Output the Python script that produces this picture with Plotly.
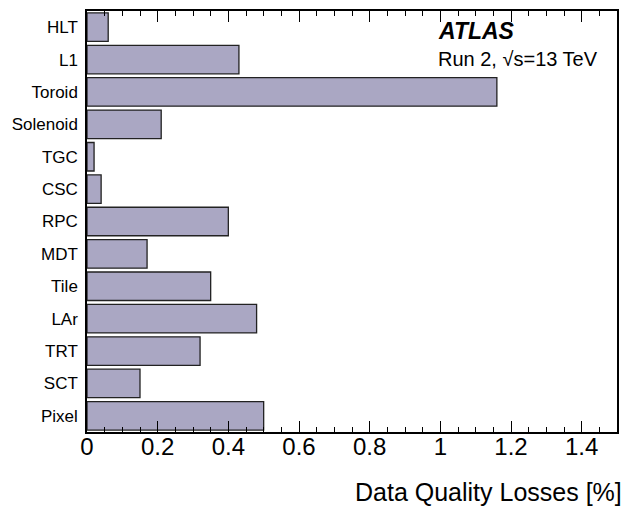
import plotly.graph_objects as go

categories = ["HLT", "L1", "Toroid", "Solenoid", "TGC", "CSC", "RPC", "MDT",
              "Tile", "LAr", "TRT", "SCT", "Pixel"]
losses = [0.06, 0.43, 1.16, 0.21, 0.02, 0.04, 0.40, 0.17, 0.35, 0.48, 0.32, 0.15, 0.50]
x_ticks = [0, 0.2, 0.4, 0.6, 0.8, 1, 1.2, 1.4]
x_tick_labels = ["0", "0.2", "0.4", "0.6", "0.8", "1", "1.2", "1.4"]

fig = go.Figure()
fig.add_trace(go.Bar(
    y=categories, x=losses, orientation="h",
    marker=dict(color="#aaa7c3", line=dict(color="#222222", width=1.3)),
    width=0.88,
))

fig.update_layout(
    width=622, height=502,
    margin=dict(l=79, r=13, t=1, b=78),
    paper_bgcolor="white", plot_bgcolor="white",
    font=dict(family="Liberation Sans, Arial, sans-serif", color="black"),
    showlegend=False,
)
fig.update_xaxes(
    range=[0, 1.5], tickvals=x_ticks, ticktext=x_tick_labels,
    ticks="inside", ticklen=11, tickwidth=1.2, tickcolor="black",
    minor=dict(dtick=0.05, ticks="inside", ticklen=5, tickwidth=1, tickcolor="black"),
    showline=True, linecolor="black", linewidth=1.5, mirror="ticks",
    showgrid=False, zeroline=False,
    tickfont=dict(size=24), ticklabelstandoff=-8,
)
fig.update_yaxes(
    categoryorder="array", categoryarray=categories[::-1],
    showline=True, linecolor="black", linewidth=1.5, mirror=True,
    ticks="", showgrid=False, zeroline=False,
    tickfont=dict(size=17), ticklabelstandoff=4,
    range=[-0.5, 12.5],
)
fig.add_annotation(
    x=1.013, y=-0.142, xref="paper", yref="paper", xanchor="right", yanchor="middle",
    text="Data Quality Losses [%]", showarrow=False, font=dict(size=25),
)
fig.add_annotation(
    x=0.658, y=0.952, xref="paper", yref="paper", xanchor="left", yanchor="middle",
    text="<b><i>ATLAS</i></b>", showarrow=False, font=dict(size=23),
)
fig.add_annotation(
    x=0.658, y=0.886, xref="paper", yref="paper", xanchor="left", yanchor="middle",
    text="Run 2, √s=13 TeV", showarrow=False, font=dict(size=20),
)

fig.write_html("out.html")
